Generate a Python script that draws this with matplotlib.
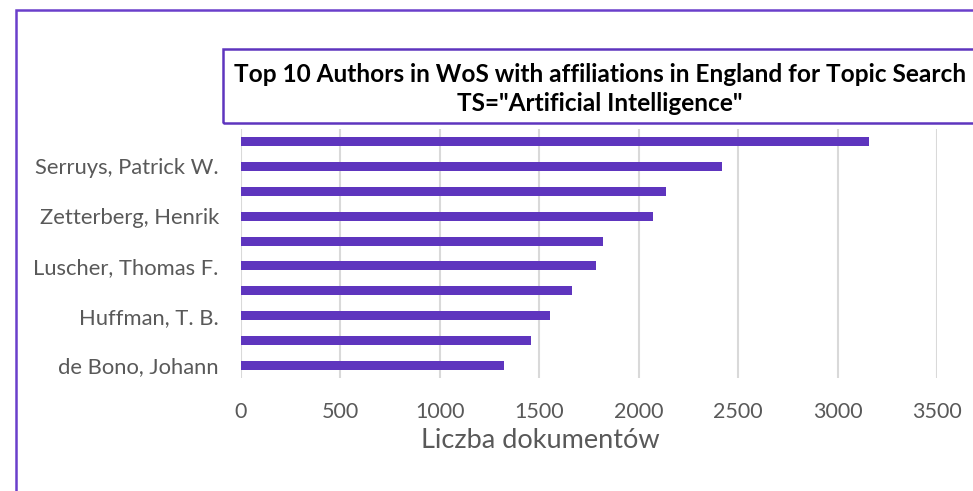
import matplotlib.pyplot as plt
from matplotlib.patches import Rectangle

# dane: top 10 autorow (ukryte etykiety w oryginale sa puste)
authors = ['', 'Serruys, Patrick W.', '', 'Zetterberg, Henrik', '',
           'Luscher, Thomas F.', '', 'Huffman, T. B.', '', 'de Bono, Johann']
docs = [3160, 2418, 2138, 2070, 1819, 1783, 1666, 1555, 1456, 1322]
xticks = [0, 500, 1000, 1500, 2000, 2500, 3000, 3500]

purple = '#5E35BE'
gray = '#595959'
plt.rcParams['font.family'] = ['Lato', 'DejaVu Sans']

W, H = 973, 491
fig = plt.figure(figsize=(W / 100, H / 100), dpi=100)

# obszar wykresu
ax = fig.add_axes([241 / W, 1 - 378 / H, (937 - 241) / W, (378 - 129) / H])
ax.barh(range(len(docs)), docs, height=0.36, color=purple, zorder=3)
ax.set_ylim(-0.5, len(docs) - 0.5)
ax.invert_yaxis()
ax.set_xlim(0, 3500)
ax.set_xticks(xticks)
ax.set_xticklabels([str(t) for t in xticks], fontsize=15.5, color=gray)
ax.set_yticks(range(len(authors)))
ax.set_yticklabels(authors, fontsize=15.8, color=gray)
ax.tick_params(axis='x', length=0, pad=17)
ax.tick_params(axis='y', length=0, pad=16)
ax.grid(axis='x', color='#d9d9d9', linewidth=1.5, zorder=0)
for s in ax.spines.values():
    s.set_visible(False)

fig.text(540 / W, 1 - 440 / H, 'Liczba dokumentów', fontsize=19.5, color=gray,
         ha='center', va='center')

# ramka tytulu
fig.patches.append(Rectangle((223 / W, 1 - 123 / H), 1.0, 74 / H, transform=fig.transFigure,
                             fill=False, edgecolor=purple, linewidth=1.8, clip_on=False))
fig.text(600 / W, 1 - 89 / H,
         'Top 10 Authors in WoS with affiliations in England for Topic Search\nTS="Artificial Intelligence"',
         fontsize=17.6, fontweight='bold', color='black', ha='center', va='center',
         linespacing=1.27)

# zewnetrzna ramka wykresu
fig.patches.append(Rectangle((16 / W, -0.5), 1.2, 0.5 + 1 - 10 / H, transform=fig.transFigure,
                             fill=False, edgecolor='#6A3FCB', linewidth=1.8, clip_on=False))

plt.savefig('out.png', dpi=100)
